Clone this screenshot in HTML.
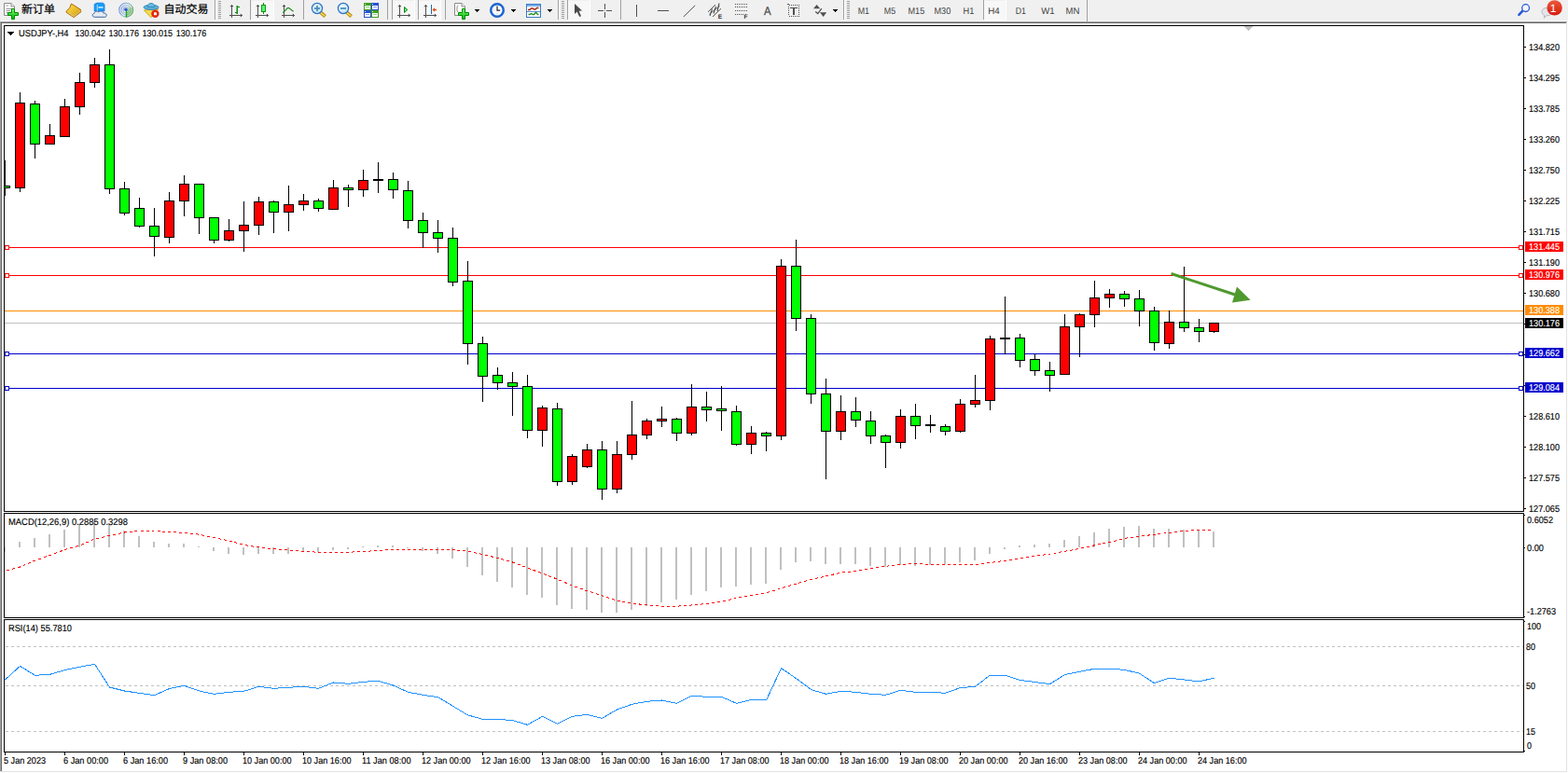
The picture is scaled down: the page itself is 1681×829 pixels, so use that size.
<!DOCTYPE html><html><head><meta charset="utf-8"><title>USDJPY H4</title><style>html,body{margin:0;padding:0;background:#fff;overflow:hidden}svg{display:block}text{font-family:"Liberation Sans",sans-serif}</style></head><body><svg width="1681" height="829" viewBox="0 0 1681 829" font-family="'Liberation Sans', sans-serif" shape-rendering="crispEdges" text-rendering="geometricPrecision">
<defs><pattern id="chk" width="2" height="2" patternUnits="userSpaceOnUse"><rect width="2" height="2" fill="#f0f0f0"/><rect width="1" height="1" fill="#fff"/><rect x="1" y="1" width="1" height="1" fill="#fff"/></pattern>
<linearGradient id="gplus" x1="0" y1="0" x2="0" y2="1"><stop offset="0" stop-color="#7dff7d"/><stop offset="1" stop-color="#00b400"/></linearGradient>
<linearGradient id="gold" x1="0" y1="0" x2="1" y2="1"><stop offset="0" stop-color="#ffe34d"/><stop offset="1" stop-color="#d69a10"/></linearGradient>
<linearGradient id="badge" x1="0" y1="0" x2="0" y2="1"><stop offset="0" stop-color="#ea5a3c"/><stop offset="1" stop-color="#d61c0c"/></linearGradient>
<radialGradient id="lens" cx="0.4" cy="0.35" r="0.7"><stop offset="0" stop-color="#f2fbff"/><stop offset="1" stop-color="#b4dcf5"/></radialGradient>
</defs>
<rect x="0" y="0" width="1681" height="829" fill="#fff"/>
<rect x="0" y="0" width="1681" height="22" fill="#f0f0f0"/>
<rect x="0" y="22" width="1681" height="1" fill="#f5f5f5"/>
<rect x="0" y="23" width="1680" height="1" fill="#a0a0a0"/>
<rect x="1" y="24" width="1679" height="1" fill="#696969"/>
<rect x="0" y="23" width="1" height="804" fill="#a0a0a0"/>
<rect x="1" y="24" width="1" height="803" fill="#696969"/>
<rect x="1679" y="24" width="1" height="804" fill="#e3e3e3"/>
<rect x="0" y="827" width="1680" height="1" fill="#e3e3e3"/>
<rect x="4" y="27" width="1630" height="1" fill="#000"/>
<rect x="4" y="548" width="1630" height="1" fill="#000"/>
<rect x="4" y="27" width="1" height="522" fill="#000"/>
<rect x="1633" y="27" width="1" height="522" fill="#000"/>
<rect x="4" y="550" width="1630" height="1" fill="#000"/>
<rect x="4" y="662" width="1630" height="1" fill="#000"/>
<rect x="4" y="550" width="1" height="113" fill="#000"/>
<rect x="1633" y="550" width="1" height="113" fill="#000"/>
<rect x="4" y="664" width="1630" height="1" fill="#000"/>
<rect x="4" y="806" width="1630" height="1" fill="#000"/>
<rect x="4" y="664" width="1" height="143" fill="#000"/>
<rect x="1633" y="664" width="1" height="143" fill="#000"/>
<rect x="5" y="346" width="1628" height="1" fill="#c0c0c0"/>
<rect x="5" y="333" width="1628" height="1" fill="#ff8c00"/>
<rect x="5" y="265" width="1628" height="1" fill="#ff0000"/>
<rect x="5" y="263" width="5" height="5" fill="#ff0000"/>
<rect x="6" y="264" width="3" height="3" fill="#fff"/>
<rect x="1628" y="263" width="5" height="5" fill="#ff0000"/>
<rect x="1629" y="264" width="3" height="3" fill="#fff"/>
<rect x="5" y="295" width="1628" height="1" fill="#ff0000"/>
<rect x="5" y="293" width="5" height="5" fill="#ff0000"/>
<rect x="6" y="294" width="3" height="3" fill="#fff"/>
<rect x="1628" y="293" width="5" height="5" fill="#ff0000"/>
<rect x="1629" y="294" width="3" height="3" fill="#fff"/>
<rect x="5" y="379" width="1628" height="1" fill="#0000cd"/>
<rect x="5" y="377" width="5" height="5" fill="#0000cd"/>
<rect x="6" y="378" width="3" height="3" fill="#fff"/>
<rect x="1628" y="377" width="5" height="5" fill="#0000cd"/>
<rect x="1629" y="378" width="3" height="3" fill="#fff"/>
<rect x="5" y="416" width="1628" height="1" fill="#0000cd"/>
<rect x="5" y="414" width="5" height="5" fill="#0000cd"/>
<rect x="6" y="415" width="3" height="3" fill="#fff"/>
<rect x="1628" y="414" width="5" height="5" fill="#0000cd"/>
<rect x="1629" y="415" width="3" height="3" fill="#fff"/>
<rect x="5" y="172" width="1" height="38" fill="#000"/>
<rect x="5" y="199" width="6" height="3" fill="#000"/>
<rect x="5" y="200" width="5" height="1" fill="#00ff00"/>
<rect x="21" y="99" width="1" height="107" fill="#000"/>
<rect x="16" y="110" width="11" height="92" fill="#000"/>
<rect x="17" y="111" width="9" height="90" fill="#ff0000"/>
<rect x="37" y="108" width="1" height="62" fill="#000"/>
<rect x="32" y="111" width="11" height="44" fill="#000"/>
<rect x="33" y="112" width="9" height="42" fill="#00ff00"/>
<rect x="53" y="133" width="1" height="22" fill="#000"/>
<rect x="48" y="145" width="11" height="10" fill="#000"/>
<rect x="49" y="146" width="9" height="8" fill="#ff0000"/>
<rect x="69" y="106" width="1" height="41" fill="#000"/>
<rect x="64" y="114" width="11" height="33" fill="#000"/>
<rect x="65" y="115" width="9" height="31" fill="#ff0000"/>
<rect x="85" y="78" width="1" height="45" fill="#000"/>
<rect x="80" y="88" width="11" height="27" fill="#000"/>
<rect x="81" y="89" width="9" height="25" fill="#ff0000"/>
<rect x="101" y="62" width="1" height="32" fill="#000"/>
<rect x="96" y="69" width="11" height="20" fill="#000"/>
<rect x="97" y="70" width="9" height="18" fill="#ff0000"/>
<rect x="117" y="53" width="1" height="155" fill="#000"/>
<rect x="112" y="69" width="11" height="134" fill="#000"/>
<rect x="113" y="70" width="9" height="132" fill="#00ff00"/>
<rect x="133" y="195" width="1" height="36" fill="#000"/>
<rect x="128" y="202" width="11" height="27" fill="#000"/>
<rect x="129" y="203" width="9" height="25" fill="#00ff00"/>
<rect x="149" y="212" width="1" height="32" fill="#000"/>
<rect x="144" y="223" width="11" height="20" fill="#000"/>
<rect x="145" y="224" width="9" height="18" fill="#00ff00"/>
<rect x="165" y="223" width="1" height="52" fill="#000"/>
<rect x="160" y="242" width="11" height="12" fill="#000"/>
<rect x="161" y="243" width="9" height="10" fill="#00ff00"/>
<rect x="181" y="206" width="1" height="55" fill="#000"/>
<rect x="176" y="215" width="11" height="40" fill="#000"/>
<rect x="177" y="216" width="9" height="38" fill="#ff0000"/>
<rect x="197" y="188" width="1" height="44" fill="#000"/>
<rect x="192" y="197" width="11" height="19" fill="#000"/>
<rect x="193" y="198" width="9" height="17" fill="#ff0000"/>
<rect x="213" y="197" width="1" height="54" fill="#000"/>
<rect x="208" y="197" width="11" height="37" fill="#000"/>
<rect x="209" y="198" width="9" height="35" fill="#00ff00"/>
<rect x="229" y="233" width="1" height="28" fill="#000"/>
<rect x="224" y="233" width="11" height="25" fill="#000"/>
<rect x="225" y="234" width="9" height="23" fill="#00ff00"/>
<rect x="245" y="235" width="1" height="24" fill="#000"/>
<rect x="240" y="247" width="11" height="11" fill="#000"/>
<rect x="241" y="248" width="9" height="9" fill="#ff0000"/>
<rect x="261" y="216" width="1" height="54" fill="#000"/>
<rect x="256" y="241" width="11" height="7" fill="#000"/>
<rect x="257" y="242" width="9" height="5" fill="#ff0000"/>
<rect x="277" y="211" width="1" height="41" fill="#000"/>
<rect x="272" y="216" width="11" height="26" fill="#000"/>
<rect x="273" y="217" width="9" height="24" fill="#ff0000"/>
<rect x="293" y="215" width="1" height="35" fill="#000"/>
<rect x="288" y="216" width="11" height="12" fill="#000"/>
<rect x="289" y="217" width="9" height="10" fill="#00ff00"/>
<rect x="309" y="199" width="1" height="49" fill="#000"/>
<rect x="304" y="219" width="11" height="9" fill="#000"/>
<rect x="305" y="220" width="9" height="7" fill="#ff0000"/>
<rect x="325" y="208" width="1" height="18" fill="#000"/>
<rect x="320" y="215" width="11" height="5" fill="#000"/>
<rect x="321" y="216" width="9" height="3" fill="#ff0000"/>
<rect x="341" y="213" width="1" height="14" fill="#000"/>
<rect x="336" y="215" width="11" height="9" fill="#000"/>
<rect x="337" y="216" width="9" height="7" fill="#00ff00"/>
<rect x="357" y="193" width="1" height="32" fill="#000"/>
<rect x="352" y="201" width="11" height="24" fill="#000"/>
<rect x="353" y="202" width="9" height="22" fill="#ff0000"/>
<rect x="373" y="198" width="1" height="24" fill="#000"/>
<rect x="368" y="201" width="11" height="3" fill="#000"/>
<rect x="369" y="202" width="9" height="1" fill="#00ff00"/>
<rect x="389" y="182" width="1" height="29" fill="#000"/>
<rect x="384" y="193" width="11" height="11" fill="#000"/>
<rect x="385" y="194" width="9" height="9" fill="#ff0000"/>
<rect x="405" y="174" width="1" height="33" fill="#000"/>
<rect x="400" y="192" width="11" height="2" fill="#000"/>
<rect x="421" y="185" width="1" height="28" fill="#000"/>
<rect x="416" y="192" width="11" height="12" fill="#000"/>
<rect x="417" y="193" width="9" height="10" fill="#00ff00"/>
<rect x="437" y="194" width="1" height="51" fill="#000"/>
<rect x="432" y="204" width="11" height="33" fill="#000"/>
<rect x="433" y="205" width="9" height="31" fill="#00ff00"/>
<rect x="453" y="228" width="1" height="38" fill="#000"/>
<rect x="448" y="236" width="11" height="14" fill="#000"/>
<rect x="449" y="237" width="9" height="12" fill="#00ff00"/>
<rect x="469" y="236" width="1" height="35" fill="#000"/>
<rect x="464" y="249" width="11" height="7" fill="#000"/>
<rect x="465" y="250" width="9" height="5" fill="#00ff00"/>
<rect x="485" y="244" width="1" height="63" fill="#000"/>
<rect x="480" y="255" width="11" height="48" fill="#000"/>
<rect x="481" y="256" width="9" height="46" fill="#00ff00"/>
<rect x="501" y="280" width="1" height="111" fill="#000"/>
<rect x="496" y="301" width="11" height="68" fill="#000"/>
<rect x="497" y="302" width="9" height="66" fill="#00ff00"/>
<rect x="517" y="361" width="1" height="70" fill="#000"/>
<rect x="512" y="368" width="11" height="36" fill="#000"/>
<rect x="513" y="369" width="9" height="34" fill="#00ff00"/>
<rect x="533" y="394" width="1" height="24" fill="#000"/>
<rect x="528" y="402" width="11" height="9" fill="#000"/>
<rect x="529" y="403" width="9" height="7" fill="#00ff00"/>
<rect x="549" y="399" width="1" height="47" fill="#000"/>
<rect x="544" y="410" width="11" height="5" fill="#000"/>
<rect x="545" y="411" width="9" height="3" fill="#00ff00"/>
<rect x="565" y="402" width="1" height="68" fill="#000"/>
<rect x="560" y="414" width="11" height="48" fill="#000"/>
<rect x="561" y="415" width="9" height="46" fill="#00ff00"/>
<rect x="581" y="435" width="1" height="44" fill="#000"/>
<rect x="576" y="437" width="11" height="25" fill="#000"/>
<rect x="577" y="438" width="9" height="23" fill="#ff0000"/>
<rect x="597" y="432" width="1" height="89" fill="#000"/>
<rect x="592" y="438" width="11" height="79" fill="#000"/>
<rect x="593" y="439" width="9" height="77" fill="#00ff00"/>
<rect x="613" y="487" width="1" height="33" fill="#000"/>
<rect x="608" y="489" width="11" height="28" fill="#000"/>
<rect x="609" y="490" width="9" height="26" fill="#ff0000"/>
<rect x="629" y="476" width="1" height="26" fill="#000"/>
<rect x="624" y="482" width="11" height="19" fill="#000"/>
<rect x="625" y="483" width="9" height="17" fill="#ff0000"/>
<rect x="645" y="473" width="1" height="63" fill="#000"/>
<rect x="640" y="482" width="11" height="43" fill="#000"/>
<rect x="641" y="483" width="9" height="41" fill="#00ff00"/>
<rect x="661" y="473" width="1" height="56" fill="#000"/>
<rect x="656" y="487" width="11" height="38" fill="#000"/>
<rect x="657" y="488" width="9" height="36" fill="#ff0000"/>
<rect x="677" y="430" width="1" height="63" fill="#000"/>
<rect x="672" y="466" width="11" height="22" fill="#000"/>
<rect x="673" y="467" width="9" height="20" fill="#ff0000"/>
<rect x="693" y="449" width="1" height="22" fill="#000"/>
<rect x="688" y="451" width="11" height="16" fill="#000"/>
<rect x="689" y="452" width="9" height="14" fill="#ff0000"/>
<rect x="709" y="436" width="1" height="22" fill="#000"/>
<rect x="704" y="449" width="11" height="3" fill="#000"/>
<rect x="705" y="450" width="9" height="1" fill="#ff0000"/>
<rect x="725" y="448" width="1" height="25" fill="#000"/>
<rect x="720" y="449" width="11" height="16" fill="#000"/>
<rect x="721" y="450" width="9" height="14" fill="#00ff00"/>
<rect x="741" y="412" width="1" height="55" fill="#000"/>
<rect x="736" y="436" width="11" height="29" fill="#000"/>
<rect x="737" y="437" width="9" height="27" fill="#ff0000"/>
<rect x="757" y="420" width="1" height="32" fill="#000"/>
<rect x="752" y="436" width="11" height="4" fill="#000"/>
<rect x="753" y="437" width="9" height="2" fill="#00ff00"/>
<rect x="773" y="414" width="1" height="48" fill="#000"/>
<rect x="768" y="438" width="11" height="3" fill="#000"/>
<rect x="769" y="439" width="9" height="1" fill="#00ff00"/>
<rect x="789" y="435" width="1" height="43" fill="#000"/>
<rect x="784" y="441" width="11" height="36" fill="#000"/>
<rect x="785" y="442" width="9" height="34" fill="#00ff00"/>
<rect x="805" y="457" width="1" height="30" fill="#000"/>
<rect x="800" y="464" width="11" height="13" fill="#000"/>
<rect x="801" y="465" width="9" height="11" fill="#ff0000"/>
<rect x="821" y="463" width="1" height="21" fill="#000"/>
<rect x="816" y="464" width="11" height="4" fill="#000"/>
<rect x="817" y="465" width="9" height="2" fill="#00ff00"/>
<rect x="837" y="278" width="1" height="194" fill="#000"/>
<rect x="832" y="285" width="11" height="183" fill="#000"/>
<rect x="833" y="286" width="9" height="181" fill="#ff0000"/>
<rect x="853" y="257" width="1" height="98" fill="#000"/>
<rect x="848" y="285" width="11" height="57" fill="#000"/>
<rect x="849" y="286" width="9" height="55" fill="#00ff00"/>
<rect x="869" y="337" width="1" height="96" fill="#000"/>
<rect x="864" y="341" width="11" height="82" fill="#000"/>
<rect x="865" y="342" width="9" height="80" fill="#00ff00"/>
<rect x="885" y="406" width="1" height="108" fill="#000"/>
<rect x="880" y="422" width="11" height="41" fill="#000"/>
<rect x="881" y="423" width="9" height="39" fill="#00ff00"/>
<rect x="901" y="424" width="1" height="48" fill="#000"/>
<rect x="896" y="441" width="11" height="22" fill="#000"/>
<rect x="897" y="442" width="9" height="20" fill="#ff0000"/>
<rect x="917" y="426" width="1" height="32" fill="#000"/>
<rect x="912" y="441" width="11" height="10" fill="#000"/>
<rect x="913" y="442" width="9" height="8" fill="#00ff00"/>
<rect x="933" y="441" width="1" height="35" fill="#000"/>
<rect x="928" y="451" width="11" height="17" fill="#000"/>
<rect x="929" y="452" width="9" height="15" fill="#00ff00"/>
<rect x="949" y="466" width="1" height="36" fill="#000"/>
<rect x="944" y="467" width="11" height="8" fill="#000"/>
<rect x="945" y="468" width="9" height="6" fill="#00ff00"/>
<rect x="965" y="439" width="1" height="42" fill="#000"/>
<rect x="960" y="446" width="11" height="29" fill="#000"/>
<rect x="961" y="447" width="9" height="27" fill="#ff0000"/>
<rect x="981" y="433" width="1" height="38" fill="#000"/>
<rect x="976" y="446" width="11" height="11" fill="#000"/>
<rect x="977" y="447" width="9" height="9" fill="#00ff00"/>
<rect x="997" y="445" width="1" height="19" fill="#000"/>
<rect x="992" y="455" width="11" height="2" fill="#000"/>
<rect x="1013" y="455" width="1" height="12" fill="#000"/>
<rect x="1008" y="457" width="11" height="6" fill="#000"/>
<rect x="1009" y="458" width="9" height="4" fill="#00ff00"/>
<rect x="1029" y="428" width="1" height="36" fill="#000"/>
<rect x="1024" y="433" width="11" height="30" fill="#000"/>
<rect x="1025" y="434" width="9" height="28" fill="#ff0000"/>
<rect x="1045" y="402" width="1" height="35" fill="#000"/>
<rect x="1040" y="429" width="11" height="5" fill="#000"/>
<rect x="1041" y="430" width="9" height="3" fill="#ff0000"/>
<rect x="1061" y="360" width="1" height="80" fill="#000"/>
<rect x="1056" y="363" width="11" height="67" fill="#000"/>
<rect x="1057" y="364" width="9" height="65" fill="#ff0000"/>
<rect x="1077" y="318" width="1" height="62" fill="#000"/>
<rect x="1072" y="362" width="11" height="2" fill="#000"/>
<rect x="1093" y="358" width="1" height="36" fill="#000"/>
<rect x="1088" y="362" width="11" height="25" fill="#000"/>
<rect x="1089" y="363" width="9" height="23" fill="#00ff00"/>
<rect x="1109" y="380" width="1" height="23" fill="#000"/>
<rect x="1104" y="385" width="11" height="13" fill="#000"/>
<rect x="1105" y="386" width="9" height="11" fill="#00ff00"/>
<rect x="1125" y="388" width="1" height="32" fill="#000"/>
<rect x="1120" y="397" width="11" height="6" fill="#000"/>
<rect x="1121" y="398" width="9" height="4" fill="#00ff00"/>
<rect x="1141" y="337" width="1" height="65" fill="#000"/>
<rect x="1136" y="350" width="11" height="52" fill="#000"/>
<rect x="1137" y="351" width="9" height="50" fill="#ff0000"/>
<rect x="1157" y="336" width="1" height="47" fill="#000"/>
<rect x="1152" y="337" width="11" height="14" fill="#000"/>
<rect x="1153" y="338" width="9" height="12" fill="#ff0000"/>
<rect x="1173" y="301" width="1" height="50" fill="#000"/>
<rect x="1168" y="319" width="11" height="19" fill="#000"/>
<rect x="1169" y="320" width="9" height="17" fill="#ff0000"/>
<rect x="1189" y="310" width="1" height="20" fill="#000"/>
<rect x="1184" y="315" width="11" height="5" fill="#000"/>
<rect x="1185" y="316" width="9" height="3" fill="#ff0000"/>
<rect x="1205" y="312" width="1" height="17" fill="#000"/>
<rect x="1200" y="315" width="11" height="6" fill="#000"/>
<rect x="1201" y="316" width="9" height="4" fill="#00ff00"/>
<rect x="1221" y="311" width="1" height="39" fill="#000"/>
<rect x="1216" y="320" width="11" height="14" fill="#000"/>
<rect x="1217" y="321" width="9" height="12" fill="#00ff00"/>
<rect x="1237" y="329" width="1" height="47" fill="#000"/>
<rect x="1232" y="333" width="11" height="35" fill="#000"/>
<rect x="1233" y="334" width="9" height="33" fill="#00ff00"/>
<rect x="1253" y="333" width="1" height="41" fill="#000"/>
<rect x="1248" y="345" width="11" height="24" fill="#000"/>
<rect x="1249" y="346" width="9" height="22" fill="#ff0000"/>
<rect x="1269" y="286" width="1" height="70" fill="#000"/>
<rect x="1264" y="345" width="11" height="7" fill="#000"/>
<rect x="1265" y="346" width="9" height="5" fill="#00ff00"/>
<rect x="1285" y="342" width="1" height="25" fill="#000"/>
<rect x="1280" y="351" width="11" height="5" fill="#000"/>
<rect x="1281" y="352" width="9" height="3" fill="#00ff00"/>
<rect x="1301" y="346" width="1" height="11" fill="#000"/>
<rect x="1296" y="346" width="11" height="10" fill="#000"/>
<rect x="1297" y="347" width="9" height="8" fill="#ff0000"/>
<rect x="1334" y="28" width="9" height="1" fill="#c0c0c0"/>
<rect x="1335" y="29" width="7" height="1" fill="#c0c0c0"/>
<rect x="1336" y="30" width="5" height="1" fill="#c0c0c0"/>
<rect x="1337" y="31" width="3" height="1" fill="#c0c0c0"/>
<rect x="1338" y="32" width="1" height="1" fill="#c0c0c0"/>
<g shape-rendering="auto"><line x1="1255.6" y1="293.5" x2="1324" y2="316" stroke="#4f9a2f" stroke-width="3"/><path d="M1326 307.5L1340.6 321.7L1321 324.6Z" fill="#4f9a2f"/></g>
<rect x="1634" y="50" width="2" height="1" fill="#000"/>
<text x="1639" y="54" font-size="10" fill="#000" stroke="#000" stroke-width=".15" textLength="33" lengthAdjust="spacingAndGlyphs" xml:space="preserve">134.820</text>
<rect x="1634" y="83" width="2" height="1" fill="#000"/>
<text x="1639" y="87" font-size="10" fill="#000" stroke="#000" stroke-width=".15" textLength="33" lengthAdjust="spacingAndGlyphs" xml:space="preserve">134.295</text>
<rect x="1634" y="116" width="2" height="1" fill="#000"/>
<text x="1639" y="120" font-size="10" fill="#000" stroke="#000" stroke-width=".15" textLength="33" lengthAdjust="spacingAndGlyphs" xml:space="preserve">133.785</text>
<rect x="1634" y="149" width="2" height="1" fill="#000"/>
<text x="1639" y="153" font-size="10" fill="#000" stroke="#000" stroke-width=".15" textLength="33" lengthAdjust="spacingAndGlyphs" xml:space="preserve">133.260</text>
<rect x="1634" y="182" width="2" height="1" fill="#000"/>
<text x="1639" y="186" font-size="10" fill="#000" stroke="#000" stroke-width=".15" textLength="33" lengthAdjust="spacingAndGlyphs" xml:space="preserve">132.750</text>
<rect x="1634" y="215" width="2" height="1" fill="#000"/>
<text x="1639" y="219" font-size="10" fill="#000" stroke="#000" stroke-width=".15" textLength="33" lengthAdjust="spacingAndGlyphs" xml:space="preserve">132.225</text>
<rect x="1634" y="248" width="2" height="1" fill="#000"/>
<text x="1639" y="252" font-size="10" fill="#000" stroke="#000" stroke-width=".15" textLength="33" lengthAdjust="spacingAndGlyphs" xml:space="preserve">131.715</text>
<rect x="1634" y="281" width="2" height="1" fill="#000"/>
<text x="1639" y="285" font-size="10" fill="#000" stroke="#000" stroke-width=".15" textLength="33" lengthAdjust="spacingAndGlyphs" xml:space="preserve">131.190</text>
<rect x="1634" y="314" width="2" height="1" fill="#000"/>
<text x="1639" y="318" font-size="10" fill="#000" stroke="#000" stroke-width=".15" textLength="33" lengthAdjust="spacingAndGlyphs" xml:space="preserve">130.680</text>
<rect x="1634" y="347" width="2" height="1" fill="#000"/>
<rect x="1634" y="380" width="2" height="1" fill="#000"/>
<rect x="1634" y="413" width="2" height="1" fill="#000"/>
<rect x="1634" y="446" width="2" height="1" fill="#000"/>
<text x="1639" y="450" font-size="10" fill="#000" stroke="#000" stroke-width=".15" textLength="33" lengthAdjust="spacingAndGlyphs" xml:space="preserve">128.610</text>
<rect x="1634" y="479" width="2" height="1" fill="#000"/>
<text x="1639" y="483" font-size="10" fill="#000" stroke="#000" stroke-width=".15" textLength="33" lengthAdjust="spacingAndGlyphs" xml:space="preserve">128.100</text>
<rect x="1634" y="512" width="2" height="1" fill="#000"/>
<text x="1639" y="516" font-size="10" fill="#000" stroke="#000" stroke-width=".15" textLength="33" lengthAdjust="spacingAndGlyphs" xml:space="preserve">127.575</text>
<rect x="1634" y="545" width="2" height="1" fill="#000"/>
<text x="1639" y="549" font-size="10" fill="#000" stroke="#000" stroke-width=".15" textLength="33" lengthAdjust="spacingAndGlyphs" xml:space="preserve">127.065</text>
<rect x="1635" y="259" width="41" height="11" fill="#ff0000"/>
<text x="1639" y="268" font-size="10" fill="#fff" stroke="#fff" stroke-width=".15" textLength="33" lengthAdjust="spacingAndGlyphs" xml:space="preserve">131.445</text>
<rect x="1635" y="289" width="41" height="11" fill="#ff0000"/>
<text x="1639" y="298" font-size="10" fill="#fff" stroke="#fff" stroke-width=".15" textLength="33" lengthAdjust="spacingAndGlyphs" xml:space="preserve">130.976</text>
<rect x="1635" y="327" width="41" height="11" fill="#ff8c00"/>
<text x="1639" y="336" font-size="10" fill="#fff" stroke="#fff" stroke-width=".15" textLength="33" lengthAdjust="spacingAndGlyphs" xml:space="preserve">130.388</text>
<rect x="1635" y="341" width="41" height="11" fill="#000"/>
<text x="1639" y="350" font-size="10" fill="#fff" stroke="#fff" stroke-width=".15" textLength="33" lengthAdjust="spacingAndGlyphs" xml:space="preserve">130.176</text>
<rect x="1635" y="373" width="41" height="11" fill="#0000cd"/>
<text x="1639" y="382" font-size="10" fill="#fff" stroke="#fff" stroke-width=".15" textLength="33" lengthAdjust="spacingAndGlyphs" xml:space="preserve">129.662</text>
<rect x="1635" y="410" width="41" height="11" fill="#0000cd"/>
<text x="1639" y="419" font-size="10" fill="#fff" stroke="#fff" stroke-width=".15" textLength="33" lengthAdjust="spacingAndGlyphs" xml:space="preserve">129.084</text>
<rect x="8" y="34" width="7" height="1" fill="#000"/>
<rect x="9" y="35" width="5" height="1" fill="#000"/>
<rect x="10" y="36" width="3" height="1" fill="#000"/>
<rect x="11" y="37" width="1" height="1" fill="#000"/>
<text x="20" y="39" font-size="10" fill="#000" stroke="#000" stroke-width=".15" textLength="53.5" lengthAdjust="spacingAndGlyphs" xml:space="preserve">USDJPY-,H4</text>
<text x="80.4" y="39" font-size="10" fill="#000" stroke="#000" stroke-width=".15" textLength="32.5" lengthAdjust="spacingAndGlyphs" xml:space="preserve">130.042</text>
<text x="116.5" y="39" font-size="10" fill="#000" stroke="#000" stroke-width=".15" textLength="32.5" lengthAdjust="spacingAndGlyphs" xml:space="preserve">130.176</text>
<text x="152.60000000000002" y="39" font-size="10" fill="#000" stroke="#000" stroke-width=".15" textLength="32.5" lengthAdjust="spacingAndGlyphs" xml:space="preserve">130.015</text>
<text x="188.70000000000002" y="39" font-size="10" fill="#000" stroke="#000" stroke-width=".15" textLength="32.5" lengthAdjust="spacingAndGlyphs" xml:space="preserve">130.176</text>
<rect x="20" y="581" width="2" height="6" fill="#c0c0c0"/>
<rect x="36" y="577" width="2" height="10" fill="#c0c0c0"/>
<rect x="52" y="573" width="2" height="14" fill="#c0c0c0"/>
<rect x="68" y="568" width="2" height="19" fill="#c0c0c0"/>
<rect x="84" y="562" width="2" height="25" fill="#c0c0c0"/>
<rect x="100" y="559" width="2" height="28" fill="#c0c0c0"/>
<rect x="116" y="562" width="2" height="25" fill="#c0c0c0"/>
<rect x="132" y="569" width="2" height="18" fill="#c0c0c0"/>
<rect x="148" y="575" width="2" height="12" fill="#c0c0c0"/>
<rect x="164" y="581" width="2" height="6" fill="#c0c0c0"/>
<rect x="180" y="583" width="2" height="4" fill="#c0c0c0"/>
<rect x="196" y="583" width="2" height="4" fill="#c0c0c0"/>
<rect x="212" y="586" width="2" height="1" fill="#c0c0c0"/>
<rect x="228" y="587" width="2" height="4" fill="#c0c0c0"/>
<rect x="244" y="587" width="2" height="7" fill="#c0c0c0"/>
<rect x="260" y="587" width="2" height="8" fill="#c0c0c0"/>
<rect x="276" y="587" width="2" height="7" fill="#c0c0c0"/>
<rect x="292" y="587" width="2" height="7" fill="#c0c0c0"/>
<rect x="308" y="587" width="2" height="7" fill="#c0c0c0"/>
<rect x="324" y="587" width="2" height="5" fill="#c0c0c0"/>
<rect x="340" y="587" width="2" height="5" fill="#c0c0c0"/>
<rect x="356" y="587" width="2" height="3" fill="#c0c0c0"/>
<rect x="372" y="587" width="2" height="2" fill="#c0c0c0"/>
<rect x="388" y="586" width="2" height="1" fill="#c0c0c0"/>
<rect x="404" y="585" width="2" height="2" fill="#c0c0c0"/>
<rect x="420" y="585" width="2" height="2" fill="#c0c0c0"/>
<rect x="436" y="587" width="2" height="1" fill="#c0c0c0"/>
<rect x="452" y="587" width="2" height="4" fill="#c0c0c0"/>
<rect x="468" y="587" width="2" height="7" fill="#c0c0c0"/>
<rect x="484" y="587" width="2" height="12" fill="#c0c0c0"/>
<rect x="500" y="587" width="2" height="21" fill="#c0c0c0"/>
<rect x="516" y="587" width="2" height="30" fill="#c0c0c0"/>
<rect x="532" y="587" width="2" height="37" fill="#c0c0c0"/>
<rect x="548" y="587" width="2" height="43" fill="#c0c0c0"/>
<rect x="564" y="587" width="2" height="51" fill="#c0c0c0"/>
<rect x="580" y="587" width="2" height="54" fill="#c0c0c0"/>
<rect x="596" y="587" width="2" height="62" fill="#c0c0c0"/>
<rect x="612" y="587" width="2" height="66" fill="#c0c0c0"/>
<rect x="628" y="587" width="2" height="67" fill="#c0c0c0"/>
<rect x="644" y="587" width="2" height="70" fill="#c0c0c0"/>
<rect x="660" y="587" width="2" height="70" fill="#c0c0c0"/>
<rect x="676" y="587" width="2" height="67" fill="#c0c0c0"/>
<rect x="692" y="587" width="2" height="63" fill="#c0c0c0"/>
<rect x="708" y="587" width="2" height="59" fill="#c0c0c0"/>
<rect x="724" y="587" width="2" height="56" fill="#c0c0c0"/>
<rect x="740" y="587" width="2" height="51" fill="#c0c0c0"/>
<rect x="756" y="587" width="2" height="47" fill="#c0c0c0"/>
<rect x="772" y="587" width="2" height="43" fill="#c0c0c0"/>
<rect x="788" y="587" width="2" height="42" fill="#c0c0c0"/>
<rect x="804" y="587" width="2" height="40" fill="#c0c0c0"/>
<rect x="820" y="587" width="2" height="39" fill="#c0c0c0"/>
<rect x="836" y="587" width="2" height="24" fill="#c0c0c0"/>
<rect x="852" y="587" width="2" height="16" fill="#c0c0c0"/>
<rect x="868" y="587" width="2" height="15" fill="#c0c0c0"/>
<rect x="884" y="587" width="2" height="18" fill="#c0c0c0"/>
<rect x="900" y="587" width="2" height="18" fill="#c0c0c0"/>
<rect x="916" y="587" width="2" height="18" fill="#c0c0c0"/>
<rect x="932" y="587" width="2" height="20" fill="#c0c0c0"/>
<rect x="948" y="587" width="2" height="21" fill="#c0c0c0"/>
<rect x="964" y="587" width="2" height="19" fill="#c0c0c0"/>
<rect x="980" y="587" width="2" height="20" fill="#c0c0c0"/>
<rect x="996" y="587" width="2" height="19" fill="#c0c0c0"/>
<rect x="1012" y="587" width="2" height="18" fill="#c0c0c0"/>
<rect x="1028" y="587" width="2" height="16" fill="#c0c0c0"/>
<rect x="1044" y="587" width="2" height="14" fill="#c0c0c0"/>
<rect x="1060" y="587" width="2" height="7" fill="#c0c0c0"/>
<rect x="1076" y="587" width="2" height="2" fill="#c0c0c0"/>
<rect x="1092" y="585" width="2" height="2" fill="#c0c0c0"/>
<rect x="1108" y="584" width="2" height="3" fill="#c0c0c0"/>
<rect x="1124" y="583" width="2" height="4" fill="#c0c0c0"/>
<rect x="1140" y="579" width="2" height="8" fill="#c0c0c0"/>
<rect x="1156" y="575" width="2" height="12" fill="#c0c0c0"/>
<rect x="1172" y="571" width="2" height="16" fill="#c0c0c0"/>
<rect x="1188" y="567" width="2" height="20" fill="#c0c0c0"/>
<rect x="1204" y="565" width="2" height="22" fill="#c0c0c0"/>
<rect x="1220" y="564" width="2" height="23" fill="#c0c0c0"/>
<rect x="1236" y="567" width="2" height="20" fill="#c0c0c0"/>
<rect x="1252" y="567" width="2" height="20" fill="#c0c0c0"/>
<rect x="1268" y="568" width="2" height="19" fill="#c0c0c0"/>
<rect x="1284" y="568" width="2" height="19" fill="#c0c0c0"/>
<rect x="1300" y="570" width="2" height="17" fill="#c0c0c0"/>
<rect x="5" y="587" width="1" height="5" fill="#c0c0c0"/>
<polyline points="5.5,612.5 21.5,608.0 37.5,601.2 53.5,595.5 69.5,589.5 85.5,585.0 101.5,578.0 117.5,574.5 133.5,571.0 149.5,569.5 165.5,569.5 181.5,570.5 197.5,571.5 213.5,573.2 229.5,576.5 245.5,580.0 261.5,584.5 277.5,587.0 293.5,588.7 309.5,590.0 325.5,591.5 341.5,592.2 357.5,592.2 373.5,592.2 389.5,591.5 405.5,590.5 421.5,589.5 437.5,589.5 453.5,589.5 469.5,589.5 485.5,589.5 501.5,591.2 517.5,594.5 533.5,598.5 549.5,603.0 565.5,609.0 581.5,615.0 597.5,621.2 613.5,628.0 629.5,633.7 645.5,638.7 661.5,644.2 677.5,647.0 693.5,649.0 709.5,650.2 725.5,650.2 741.5,649.0 757.5,647.5 773.5,645.0 789.5,641.5 805.5,638.2 821.5,635.9 837.5,630.8 853.5,626.0 869.5,621.5 885.5,617.9 901.5,614.1 917.5,612.5 933.5,609.9 949.5,607.3 965.5,605.7 981.5,604.4 997.5,605.4 1013.5,605.4 1029.5,605.4 1045.5,605.4 1061.5,603.5 1077.5,601.2 1093.5,599.0 1109.5,596.4 1125.5,594.1 1141.5,591.3 1157.5,588.4 1173.5,584.8 1189.5,581.6 1205.5,577.4 1221.5,575.2 1237.5,573.3 1253.5,571.3 1269.5,569.4 1285.5,568.4 1297.5,568.4" fill="none" stroke="#ff0000" stroke-width="1" stroke-dasharray="3 3" stroke-dashoffset="-2"/>
<text x="9" y="563" font-size="10" fill="#000" stroke="#000" stroke-width=".15" textLength="128" lengthAdjust="spacingAndGlyphs" xml:space="preserve">MACD(12,26,9) 0.2885 0.3298</text>
<rect x="1634" y="552" width="1" height="1" fill="#000"/>
<text x="1637" y="561" font-size="10" fill="#000" stroke="#000" stroke-width=".15" textLength="28" lengthAdjust="spacingAndGlyphs" xml:space="preserve">0.6052</text>
<rect x="1634" y="587" width="1" height="1" fill="#000"/>
<text x="1637" y="591" font-size="10" fill="#000" stroke="#000" stroke-width=".15" textLength="18" lengthAdjust="spacingAndGlyphs" xml:space="preserve">0.00</text>
<rect x="1634" y="661" width="1" height="1" fill="#000"/>
<text x="1637" y="659" font-size="10" fill="#000" stroke="#000" stroke-width=".15" textLength="31" lengthAdjust="spacingAndGlyphs" xml:space="preserve">-1.2763</text>
<line x1="6" x2="1633" y1="693.5" y2="693.5" stroke="#c0c0c0" stroke-dasharray="3 3"/>
<line x1="6" x2="1633" y1="735.5" y2="735.5" stroke="#c0c0c0" stroke-dasharray="3 3"/>
<line x1="6" x2="1633" y1="784.5" y2="784.5" stroke="#c0c0c0" stroke-dasharray="3 3"/>
<polyline points="5.5,729.0 21.5,714.3 37.5,724.3 53.5,723.3 69.5,718.6 85.5,715.3 101.5,712.3 117.5,737.0 133.5,741.0 149.5,743.3 165.5,745.6 181.5,738.6 197.5,735.3 213.5,741.0 229.5,744.3 245.5,742.3 261.5,741.3 277.5,736.3 293.5,738.3 309.5,737.3 325.5,736.3 341.5,738.3 357.5,732.0 373.5,733.3 389.5,731.3 405.5,730.3 421.5,735.0 437.5,742.3 453.5,745.3 469.5,747.6 485.5,757.3 501.5,766.9 517.5,771.3 533.5,771.3 549.5,772.6 565.5,777.3 581.5,768.3 597.5,776.3 613.5,768.3 629.5,766.3 645.5,770.3 661.5,761.0 677.5,755.3 693.5,752.3 709.5,751.0 725.5,754.3 741.5,746.3 757.5,747.3 773.5,747.3 789.5,754.3 805.5,750.3 821.5,751.0 837.5,716.6 853.5,727.6 869.5,739.6 885.5,744.3 901.5,741.3 917.5,742.3 933.5,744.3 949.5,745.3 965.5,740.3 981.5,742.3 997.5,742.3 1013.5,743.3 1029.5,737.6 1045.5,736.3 1061.5,724.0 1077.5,724.0 1093.5,729.5 1109.5,731.5 1125.5,733.6 1141.5,723.6 1157.5,720.4 1173.5,717.2 1189.5,717.2 1205.5,718.3 1221.5,722.2 1237.5,732.6 1253.5,727.2 1269.5,729.0 1285.5,730.8 1301.5,727.2" fill="none" stroke="#1e90ff" stroke-width="1"/>
<text x="9" y="677" font-size="10" fill="#000" stroke="#000" stroke-width=".15" textLength="68" lengthAdjust="spacingAndGlyphs" xml:space="preserve">RSI(14) 55.7810</text>
<text x="1637" y="675" font-size="10" fill="#000" stroke="#000" stroke-width=".15" textLength="15" lengthAdjust="spacingAndGlyphs" xml:space="preserve">100</text>
<text x="1636" y="697" font-size="10" fill="#000" stroke="#000" stroke-width=".15" textLength="10" lengthAdjust="spacingAndGlyphs" xml:space="preserve">80</text>
<text x="1636" y="739" font-size="10" fill="#000" stroke="#000" stroke-width=".15" textLength="10" lengthAdjust="spacingAndGlyphs" xml:space="preserve">50</text>
<text x="1636" y="788" font-size="10" fill="#000" stroke="#000" stroke-width=".15" textLength="10" lengthAdjust="spacingAndGlyphs" xml:space="preserve">15</text>
<text x="1637" y="803" font-size="10" fill="#000" stroke="#000" stroke-width=".15" textLength="5" lengthAdjust="spacingAndGlyphs" xml:space="preserve">0</text>
<rect x="1634" y="666" width="1" height="1" fill="#000"/>
<rect x="1634" y="805" width="1" height="1" fill="#000"/>
<rect x="5" y="807" width="1" height="3" fill="#000"/>
<text x="4" y="819" font-size="10" fill="#000" stroke="#000" stroke-width=".15" textLength="45" lengthAdjust="spacingAndGlyphs" xml:space="preserve">5 Jan 2023</text>
<rect x="69" y="807" width="1" height="3" fill="#000"/>
<text x="68" y="819" font-size="10" fill="#000" stroke="#000" stroke-width=".15" textLength="48" lengthAdjust="spacingAndGlyphs" xml:space="preserve">6 Jan 00:00</text>
<rect x="133" y="807" width="1" height="3" fill="#000"/>
<text x="132" y="819" font-size="10" fill="#000" stroke="#000" stroke-width=".15" textLength="48" lengthAdjust="spacingAndGlyphs" xml:space="preserve">6 Jan 16:00</text>
<rect x="197" y="807" width="1" height="3" fill="#000"/>
<text x="196" y="819" font-size="10" fill="#000" stroke="#000" stroke-width=".15" textLength="48" lengthAdjust="spacingAndGlyphs" xml:space="preserve">9 Jan 08:00</text>
<rect x="261" y="807" width="1" height="3" fill="#000"/>
<text x="260" y="819" font-size="10" fill="#000" stroke="#000" stroke-width=".15" textLength="52.5" lengthAdjust="spacingAndGlyphs" xml:space="preserve">10 Jan 00:00</text>
<rect x="325" y="807" width="1" height="3" fill="#000"/>
<text x="324" y="819" font-size="10" fill="#000" stroke="#000" stroke-width=".15" textLength="52.5" lengthAdjust="spacingAndGlyphs" xml:space="preserve">10 Jan 16:00</text>
<rect x="389" y="807" width="1" height="3" fill="#000"/>
<text x="388" y="819" font-size="10" fill="#000" stroke="#000" stroke-width=".15" textLength="52.5" lengthAdjust="spacingAndGlyphs" xml:space="preserve">11 Jan 08:00</text>
<rect x="453" y="807" width="1" height="3" fill="#000"/>
<text x="452" y="819" font-size="10" fill="#000" stroke="#000" stroke-width=".15" textLength="52.5" lengthAdjust="spacingAndGlyphs" xml:space="preserve">12 Jan 00:00</text>
<rect x="517" y="807" width="1" height="3" fill="#000"/>
<text x="516" y="819" font-size="10" fill="#000" stroke="#000" stroke-width=".15" textLength="52.5" lengthAdjust="spacingAndGlyphs" xml:space="preserve">12 Jan 16:00</text>
<rect x="581" y="807" width="1" height="3" fill="#000"/>
<text x="580" y="819" font-size="10" fill="#000" stroke="#000" stroke-width=".15" textLength="52.5" lengthAdjust="spacingAndGlyphs" xml:space="preserve">13 Jan 08:00</text>
<rect x="645" y="807" width="1" height="3" fill="#000"/>
<text x="644" y="819" font-size="10" fill="#000" stroke="#000" stroke-width=".15" textLength="52.5" lengthAdjust="spacingAndGlyphs" xml:space="preserve">16 Jan 00:00</text>
<rect x="709" y="807" width="1" height="3" fill="#000"/>
<text x="708" y="819" font-size="10" fill="#000" stroke="#000" stroke-width=".15" textLength="52.5" lengthAdjust="spacingAndGlyphs" xml:space="preserve">16 Jan 16:00</text>
<rect x="773" y="807" width="1" height="3" fill="#000"/>
<text x="772" y="819" font-size="10" fill="#000" stroke="#000" stroke-width=".15" textLength="52.5" lengthAdjust="spacingAndGlyphs" xml:space="preserve">17 Jan 08:00</text>
<rect x="837" y="807" width="1" height="3" fill="#000"/>
<text x="836" y="819" font-size="10" fill="#000" stroke="#000" stroke-width=".15" textLength="52.5" lengthAdjust="spacingAndGlyphs" xml:space="preserve">18 Jan 00:00</text>
<rect x="901" y="807" width="1" height="3" fill="#000"/>
<text x="900" y="819" font-size="10" fill="#000" stroke="#000" stroke-width=".15" textLength="52.5" lengthAdjust="spacingAndGlyphs" xml:space="preserve">18 Jan 16:00</text>
<rect x="965" y="807" width="1" height="3" fill="#000"/>
<text x="964" y="819" font-size="10" fill="#000" stroke="#000" stroke-width=".15" textLength="52.5" lengthAdjust="spacingAndGlyphs" xml:space="preserve">19 Jan 08:00</text>
<rect x="1029" y="807" width="1" height="3" fill="#000"/>
<text x="1028" y="819" font-size="10" fill="#000" stroke="#000" stroke-width=".15" textLength="52.5" lengthAdjust="spacingAndGlyphs" xml:space="preserve">20 Jan 00:00</text>
<rect x="1093" y="807" width="1" height="3" fill="#000"/>
<text x="1092" y="819" font-size="10" fill="#000" stroke="#000" stroke-width=".15" textLength="52.5" lengthAdjust="spacingAndGlyphs" xml:space="preserve">20 Jan 16:00</text>
<rect x="1157" y="807" width="1" height="3" fill="#000"/>
<text x="1156" y="819" font-size="10" fill="#000" stroke="#000" stroke-width=".15" textLength="52.5" lengthAdjust="spacingAndGlyphs" xml:space="preserve">23 Jan 08:00</text>
<rect x="1221" y="807" width="1" height="3" fill="#000"/>
<text x="1220" y="819" font-size="10" fill="#000" stroke="#000" stroke-width=".15" textLength="52.5" lengthAdjust="spacingAndGlyphs" xml:space="preserve">24 Jan 00:00</text>
<rect x="1285" y="807" width="1" height="3" fill="#000"/>
<text x="1284" y="819" font-size="10" fill="#000" stroke="#000" stroke-width=".15" textLength="52.5" lengthAdjust="spacingAndGlyphs" xml:space="preserve">24 Jan 16:00</text>
<g shape-rendering="auto">
<path d="M4.5 3.5H12L15.5 7V16.5H4.5Z" fill="#fff" stroke="#8a8a8a"/><path d="M12 3.5V7H15.5" fill="#f4f4f4" stroke="#8a8a8a"/>
<path d="M6.5 6H9M6.5 9.5H13M6.5 11.5H11M6.5 13.5H8.5" stroke="#9a9a9a" stroke-width="1"/>
<path d="M12.5 9.5H15.5V13.5H19.5V16.5H15.5V20.5H12.5V16.5H8.5V13.5H12.5Z" fill="url(#gplus)" stroke="#008a00" stroke-width="1"/>
<text x="23" y="13.9" font-size="12" fill="#000" stroke="#000" stroke-width=".2" style="font-family:'Liberation Sans','Noto Sans CJK SC',sans-serif">新订单</text>
<path d="M76.5 4L86.5 10.3L86.8 12.8L79 18.6L71 13.2L71.3 11.8L74.6 8.6Z" fill="url(#gold)" stroke="#a8680c" stroke-width="1"/><path d="M71.2 12L79 17.2L86.6 10.8L86.8 12.8L79 18.6L71 13.2Z" fill="#c08a18"/><path d="M72 12.8L79 17.6L86.4 11.6" fill="none" stroke="#f6e7a8" stroke-width=".7"/>
<path d="M101.2 4.5L104 3.2H110.5L112 4.8V12H101.2Z" fill="#169bfa" stroke="#0a78e0" stroke-width=".8"/><path d="M104.3 5V12" stroke="#d8f0ff" stroke-width=".8"/><rect x="105.5" y="7.2" width="5" height="1.4" fill="#e8f6ff"/>
<path d="M101.5 18.3C98.6 18.3 98.4 14.6 101.2 14.2C101.6 12 104.6 11.4 105.8 13C107.4 11.2 110.6 11.8 110.8 14C114.8 13.6 115.4 18.3 112.4 18.3Z" fill="#e3eaf3" stroke="#3d62a0" stroke-width="1"/>
<defs><linearGradient id="sig" x1="0" y1="0" x2="1" y2="0.4"><stop offset="0" stop-color="#3a6ad8"/><stop offset=".55" stop-color="#7aa6d8"/><stop offset="1" stop-color="#4fa64f"/></linearGradient></defs>
<path d="M135.2 10.7V18.4A7.7 7.7 0 0 0 142.4 7.6Z" fill="#7cc07c" opacity=".45"/>
<g fill="none" stroke="url(#sig)" stroke-width="1.1"><circle cx="135.2" cy="10.7" r="7.4" opacity=".8"/><circle cx="135.2" cy="10.7" r="5.2" opacity=".65"/><circle cx="135.2" cy="10.7" r="3.1" opacity=".55"/></g>
<path d="M135.5 11V18.6" stroke="#1fa51f" stroke-width="1.4"/><circle cx="135" cy="10.3" r="1.8" fill="#2a5ad0"/>
<path d="M154.4 11L169.8 9.6L162 18.8Z" fill="#f7dc4a" stroke="#caa21c" stroke-width=".9"/>
<ellipse cx="162" cy="7.8" rx="8" ry="2.6" fill="#5fb0dc" stroke="#2a86b8" stroke-width=".9"/><path d="M158 7.4C158 2.2 166 2.2 166 7.4Z" fill="#6cbbe2" stroke="#2a86b8" stroke-width=".9"/>
<circle cx="166.4" cy="14.7" r="4.2" fill="#e22a10"/><rect x="165" y="13.3" width="2.9" height="2.9" fill="#fff"/>
<text x="175.5" y="13.9" font-size="12" fill="#000" stroke="#000" stroke-width=".2" style="font-family:'Liberation Sans','Noto Sans CJK SC',sans-serif">自动交易</text>
</g>
<rect x="230" y="0" width="1" height="21" fill="#a0a0a0"/>
<rect x="231" y="0" width="1" height="21" fill="#fff"/>
<rect x="234" y="1" width="3" height="1" fill="#a0a0a0"/>
<rect x="234" y="3" width="3" height="1" fill="#a0a0a0"/>
<rect x="234" y="5" width="3" height="1" fill="#a0a0a0"/>
<rect x="234" y="7" width="3" height="1" fill="#a0a0a0"/>
<rect x="234" y="9" width="3" height="1" fill="#a0a0a0"/>
<rect x="234" y="11" width="3" height="1" fill="#a0a0a0"/>
<rect x="234" y="13" width="3" height="1" fill="#a0a0a0"/>
<rect x="234" y="15" width="3" height="1" fill="#a0a0a0"/>
<rect x="234" y="17" width="3" height="1" fill="#a0a0a0"/>
<rect x="234" y="19" width="3" height="1" fill="#a0a0a0"/>
<rect x="248" y="5" width="1" height="14" fill="#505050"/><rect x="246" y="16" width="14" height="1" fill="#505050"/>
<rect x="247" y="6" width="3" height="1" fill="#505050"/><rect x="246" y="7" width="5" height="1" fill="#505050" opacity=".12"/>
<rect x="258" y="15" width="1" height="3" fill="#505050"/><rect x="257" y="14" width="1" height="5" fill="#505050" opacity=".12"/>
<rect x="254" y="6" width="1" height="9" fill="#0a8a0a"/><rect x="254" y="7" width="3" height="1" fill="#0a8a0a"/><rect x="252" y="13" width="3" height="1" fill="#0a8a0a"/>
<rect x="253" y="6" width="1" height="9" fill="#0a8a0a" opacity=".5"/>
<rect x="268" y="0" width="1" height="21" fill="#a0a0a0"/>
<rect x="270" y="1" width="23" height="20" fill="url(#chk)"/><rect x="293" y="0" width="1" height="22" fill="#fff"/><rect x="269" y="21" width="25" height="1" fill="#fff"/>
<rect x="276" y="5" width="1" height="14" fill="#505050"/><rect x="274" y="16" width="14" height="1" fill="#505050"/>
<rect x="275" y="6" width="3" height="1" fill="#505050"/><rect x="274" y="7" width="5" height="1" fill="#505050" opacity=".12"/>
<rect x="286" y="15" width="1" height="3" fill="#505050"/><rect x="285" y="14" width="1" height="5" fill="#505050" opacity=".12"/>
<rect x="282" y="3" width="1" height="12" fill="#0a8a0a"/><rect x="280" y="5" width="5" height="8" fill="#0a9a0a"/><rect x="281" y="6" width="3" height="6" fill="#5df07a"/>
<rect x="304" y="5" width="1" height="14" fill="#505050"/><rect x="302" y="16" width="14" height="1" fill="#505050"/>
<rect x="303" y="6" width="3" height="1" fill="#505050"/><rect x="302" y="7" width="5" height="1" fill="#505050" opacity=".12"/>
<rect x="314" y="15" width="1" height="3" fill="#505050"/><rect x="313" y="14" width="1" height="5" fill="#505050" opacity=".12"/>
<path d="M303.2 13.6C306 12 307.5 8.4 309 8.4C310.8 8.4 312.5 11.5 314.6 12" fill="none" stroke="#1f8f1f" stroke-width="1.3" shape-rendering="auto"/>
<rect x="325" y="0" width="1" height="21" fill="#a0a0a0"/>
<g shape-rendering="auto">
<path d="M343.6 13.2L348.6 17.6" stroke="#a87808" stroke-width="3.6" stroke-linecap="butt"/><path d="M343.8 13.4L348.2 17.2" stroke="#f0d44a" stroke-width="2"/>
<circle cx="340" cy="9" r="5.6" fill="url(#lens)" stroke="#2a70c8" stroke-width="1.2"/>
<path d="M337 9H343" stroke="#4a90b4" stroke-width="1.8"/>
<path d="M340 6V12" stroke="#4a90b4" stroke-width="1.8"/>
</g>
<g shape-rendering="auto">
<path d="M371.6 13.2L376.6 17.6" stroke="#a87808" stroke-width="3.6" stroke-linecap="butt"/><path d="M371.8 13.4L376.2 17.2" stroke="#f0d44a" stroke-width="2"/>
<circle cx="368" cy="9" r="5.6" fill="url(#lens)" stroke="#2a70c8" stroke-width="1.2"/>
<path d="M365 9H371" stroke="#4a90b4" stroke-width="1.8"/>
</g>
<rect x="390" y="3" width="8" height="8" fill="#3fa01e"/><rect x="391" y="6" width="6" height="4" fill="#fff"/><rect x="392" y="7" width="4" height="1" fill="#3fa01e" opacity=".55"/><rect x="391" y="4" width="1" height="1" fill="#fff" opacity=".8"/>
<rect x="398" y="3" width="8" height="8" fill="#2a52d0"/><rect x="399" y="6" width="6" height="4" fill="#fff"/><rect x="400" y="7" width="4" height="1" fill="#2a52d0" opacity=".55"/><rect x="399" y="4" width="1" height="1" fill="#fff" opacity=".8"/>
<rect x="390" y="11" width="8" height="8" fill="#2a52d0"/><rect x="391" y="14" width="6" height="4" fill="#fff"/><rect x="392" y="15" width="4" height="1" fill="#2a52d0" opacity=".55"/><rect x="391" y="12" width="1" height="1" fill="#fff" opacity=".8"/>
<rect x="398" y="11" width="8" height="8" fill="#3fa01e"/><rect x="399" y="14" width="6" height="4" fill="#fff"/><rect x="400" y="15" width="4" height="1" fill="#3fa01e" opacity=".55"/><rect x="399" y="12" width="1" height="1" fill="#fff" opacity=".8"/>
<rect x="415" y="0" width="1" height="21" fill="#a0a0a0"/>
<rect x="420" y="0" width="1" height="21" fill="#a0a0a0"/>
<rect x="421" y="1" width="23" height="20" fill="url(#chk)"/><rect x="444" y="0" width="1" height="22" fill="#fff"/><rect x="420" y="21" width="25" height="1" fill="#fff"/>
<rect x="428" y="5" width="1" height="14" fill="#505050"/><rect x="426" y="16" width="14" height="1" fill="#505050"/>
<rect x="427" y="6" width="3" height="1" fill="#505050"/><rect x="426" y="7" width="5" height="1" fill="#505050" opacity=".12"/>
<rect x="438" y="15" width="1" height="3" fill="#505050"/><rect x="437" y="14" width="1" height="5" fill="#505050" opacity=".12"/>
<path d="M433.5 7.5V13.5L436.8 10.5Z" fill="#6fe07a" stroke="#0a8a0a" stroke-width="1" shape-rendering="auto"/>
<rect x="448" y="0" width="1" height="21" fill="#a0a0a0"/>
<rect x="449" y="1" width="23" height="20" fill="url(#chk)"/><rect x="472" y="0" width="1" height="22" fill="#fff"/><rect x="448" y="21" width="25" height="1" fill="#fff"/>
<rect x="456" y="5" width="1" height="14" fill="#505050"/><rect x="454" y="16" width="14" height="1" fill="#505050"/>
<rect x="455" y="6" width="3" height="1" fill="#505050"/><rect x="454" y="7" width="5" height="1" fill="#505050" opacity=".12"/>
<rect x="466" y="15" width="1" height="3" fill="#505050"/><rect x="465" y="14" width="1" height="5" fill="#505050" opacity=".12"/>
<rect x="462" y="5" width="1" height="10" fill="#1a6aa8"/><path d="M463.6 10.5L466 8.2V9.8H468V11.2H466V12.8Z" fill="#e04a08" shape-rendering="auto"/>
<rect x="477" y="0" width="1" height="21" fill="#a0a0a0"/>
<g shape-rendering="auto"><path d="M487.5 3.5H495L498.5 7V16.5H487.5Z" fill="#fff" stroke="#8a8a8a"/><path d="M495 3.5V7H498.5" fill="#f4f4f4" stroke="#8a8a8a"/><path d="M491 6C489.5 7 489.5 12 491 13" fill="none" stroke="#807860" stroke-width=".9"/>
<path d="M495.5 9.5H498.5V13.5H502.5V16.5H498.5V20.5H495.5V16.5H491.5V13.5H495.5Z" fill="url(#gplus)" stroke="#008a00" stroke-width="1"/>
</g>
<rect x="509" y="10" width="5" height="1" fill="#000"/><rect x="510" y="11" width="3" height="1" fill="#000"/><rect x="511" y="12" width="1" height="1" fill="#000"/>
<g shape-rendering="auto"><circle cx="533" cy="11" r="6.6" fill="#fff" stroke="#1a66d8" stroke-width="2.2"/><circle cx="533" cy="11" r="7.7" fill="none" stroke="#0d4aa8" stroke-width=".5"/><path d="M533 6.5V11.2H536" fill="none" stroke="#222" stroke-width="1.2"/><path d="M533 14.2V15.2M529 11H530M537 11H536" stroke="#8ab8f0" stroke-width=".8"/></g>
<rect x="548" y="10" width="5" height="1" fill="#000"/><rect x="549" y="11" width="3" height="1" fill="#000"/><rect x="550" y="12" width="1" height="1" fill="#000"/>
<rect x="564" y="4" width="15" height="14" fill="#fff" stroke="#3a78c8" stroke-width="1" transform="translate(.5,.5)" /><rect x="565" y="5" width="14" height="2" fill="#7ab0e8"/><rect x="565" y="12" width="14" height="1" fill="#5a90d8"/>
<path d="M566 10.5H568L569.5 9H571L572.5 10H574L575.5 8.5H577.5" fill="none" stroke="#a82008" stroke-width="1.3" shape-rendering="auto"/><path d="M566.5 15.5H568L569.5 14.5L571 15.5H572.5L574.5 13.3L576.5 15.5H577.5" fill="none" stroke="#1f8f1f" stroke-width="1.3" shape-rendering="auto"/>
<rect x="587" y="10" width="5" height="1" fill="#000"/><rect x="588" y="11" width="3" height="1" fill="#000"/><rect x="589" y="12" width="1" height="1" fill="#000"/>
<rect x="598" y="0" width="1" height="21" fill="#a0a0a0"/>
<rect x="599" y="0" width="1" height="21" fill="#fff"/>
<rect x="602" y="1" width="3" height="1" fill="#a0a0a0"/>
<rect x="602" y="3" width="3" height="1" fill="#a0a0a0"/>
<rect x="602" y="5" width="3" height="1" fill="#a0a0a0"/>
<rect x="602" y="7" width="3" height="1" fill="#a0a0a0"/>
<rect x="602" y="9" width="3" height="1" fill="#a0a0a0"/>
<rect x="602" y="11" width="3" height="1" fill="#a0a0a0"/>
<rect x="602" y="13" width="3" height="1" fill="#a0a0a0"/>
<rect x="602" y="15" width="3" height="1" fill="#a0a0a0"/>
<rect x="602" y="17" width="3" height="1" fill="#a0a0a0"/>
<rect x="602" y="19" width="3" height="1" fill="#a0a0a0"/>
<rect x="608" y="0" width="1" height="21" fill="#a0a0a0"/>
<rect x="609" y="1" width="23" height="20" fill="url(#chk)"/><rect x="632" y="0" width="1" height="22" fill="#fff"/><rect x="608" y="21" width="25" height="1" fill="#fff"/>
<path d="M616 4V15L618.6 12.6L621.2 18L623 17.2L620.6 11.8L624 11.4Z" fill="#484848" shape-rendering="auto"/>
<rect x="641" y="11" width="6" height="1" fill="#505050"/><rect x="650" y="11" width="6" height="1" fill="#505050"/><rect x="648" y="4" width="1" height="6" fill="#505050"/><rect x="648" y="13" width="1" height="6" fill="#505050"/><rect x="648" y="11" width="1" height="1" fill="#b09060"/>
<rect x="665" y="0" width="1" height="21" fill="#a0a0a0"/>
<rect x="682" y="5" width="1" height="13" fill="#505050"/>
<rect x="705" y="11" width="12" height="1" fill="#505050"/>
<path d="M732.8 18L745.2 5.8" stroke="#505050" stroke-width="1" shape-rendering="auto"/>
<g shape-rendering="auto" stroke="#505050" fill="none"><path d="M759 12.8L767 5" stroke-width="1"/><path d="M764 18L773 9.2" stroke-width="1"/><path d="M761 17L763.5 9.5M765 14.5L767.5 7M769 12L771 3.5" stroke-width="1.1"/><path d="M760.5 15L771.5 6.5" stroke-width=".9"/></g>
<text x="769.8" y="19.8" font-size="6.6" font-weight="bold" fill="#303030">E</text>
<rect x="788" y="4" width="1" height="1" fill="#505050"/>
<rect x="790" y="4" width="1" height="1" fill="#505050"/>
<rect x="792" y="4" width="1" height="1" fill="#505050"/>
<rect x="794" y="4" width="1" height="1" fill="#505050"/>
<rect x="796" y="4" width="1" height="1" fill="#505050"/>
<rect x="798" y="4" width="1" height="1" fill="#505050"/>
<rect x="800" y="4" width="1" height="1" fill="#505050"/>
<rect x="788" y="7" width="1" height="1" fill="#505050"/>
<rect x="790" y="7" width="1" height="1" fill="#505050"/>
<rect x="792" y="7" width="1" height="1" fill="#505050"/>
<rect x="794" y="7" width="1" height="1" fill="#505050"/>
<rect x="796" y="7" width="1" height="1" fill="#505050"/>
<rect x="798" y="7" width="1" height="1" fill="#505050"/>
<rect x="800" y="7" width="1" height="1" fill="#505050"/>
<rect x="788" y="11" width="1" height="1" fill="#505050"/>
<rect x="790" y="11" width="1" height="1" fill="#505050"/>
<rect x="792" y="11" width="1" height="1" fill="#505050"/>
<rect x="794" y="11" width="1" height="1" fill="#505050"/>
<rect x="796" y="11" width="1" height="1" fill="#505050"/>
<rect x="798" y="11" width="1" height="1" fill="#505050"/>
<rect x="800" y="11" width="1" height="1" fill="#505050"/>
<rect x="788" y="15" width="1" height="1" fill="#505050"/>
<rect x="790" y="15" width="1" height="1" fill="#505050"/>
<rect x="792" y="15" width="1" height="1" fill="#505050"/>
<rect x="794" y="15" width="1" height="1" fill="#505050"/>
<rect x="796" y="15" width="1" height="1" fill="#505050"/>
<text x="797.6" y="19.8" font-size="6.6" font-weight="bold" fill="#303030">F</text>
<text x="819" y="16" font-size="12.6" fill="#505050" textLength="7.6" lengthAdjust="spacingAndGlyphs" stroke="#505050" stroke-width=".3">A</text>
<rect x="846" y="5" width="1" height="1" fill="#505050"/><rect x="846" y="17" width="1" height="1" fill="#505050"/>
<rect x="848" y="5" width="1" height="1" fill="#505050"/><rect x="848" y="17" width="1" height="1" fill="#505050"/>
<rect x="850" y="5" width="1" height="1" fill="#505050"/><rect x="850" y="17" width="1" height="1" fill="#505050"/>
<rect x="852" y="5" width="1" height="1" fill="#505050"/><rect x="852" y="17" width="1" height="1" fill="#505050"/>
<rect x="854" y="5" width="1" height="1" fill="#505050"/><rect x="854" y="17" width="1" height="1" fill="#505050"/>
<rect x="856" y="5" width="1" height="1" fill="#505050"/><rect x="856" y="17" width="1" height="1" fill="#505050"/>
<rect x="845" y="7" width="1" height="1" fill="#505050"/><rect x="856" y="7" width="1" height="1" fill="#505050"/>
<rect x="845" y="9" width="1" height="1" fill="#505050"/><rect x="856" y="9" width="1" height="1" fill="#505050"/>
<rect x="845" y="11" width="1" height="1" fill="#505050"/><rect x="856" y="11" width="1" height="1" fill="#505050"/>
<rect x="845" y="13" width="1" height="1" fill="#505050"/><rect x="856" y="13" width="1" height="1" fill="#505050"/>
<rect x="845" y="15" width="1" height="1" fill="#505050"/><rect x="856" y="15" width="1" height="1" fill="#505050"/>
<rect x="844" y="4" width="2" height="1" fill="#505050"/>
<rect x="847" y="8" width="8" height="1.4" fill="#505050"/><rect x="850.2" y="8" width="1.6" height="8" fill="#505050"/>
<g shape-rendering="auto"><path d="M872 9.3L875.6 5L879.2 9.3Z" fill="#505050"/><path d="M879 13.3L882.6 18L886.2 13.3Z" fill="#505050"/><path d="M874.2 12.4L876.8 14.6L880.8 9.2" fill="none" stroke="#505050" stroke-width="1.3"/></g>
<rect x="893" y="10" width="5" height="1" fill="#000"/><rect x="894" y="11" width="3" height="1" fill="#000"/><rect x="895" y="12" width="1" height="1" fill="#000"/>
<rect x="904" y="0" width="1" height="21" fill="#a0a0a0"/>
<rect x="905" y="0" width="1" height="21" fill="#fff"/>
<rect x="908" y="1" width="3" height="1" fill="#a0a0a0"/>
<rect x="908" y="3" width="3" height="1" fill="#a0a0a0"/>
<rect x="908" y="5" width="3" height="1" fill="#a0a0a0"/>
<rect x="908" y="7" width="3" height="1" fill="#a0a0a0"/>
<rect x="908" y="9" width="3" height="1" fill="#a0a0a0"/>
<rect x="908" y="11" width="3" height="1" fill="#a0a0a0"/>
<rect x="908" y="13" width="3" height="1" fill="#a0a0a0"/>
<rect x="908" y="15" width="3" height="1" fill="#a0a0a0"/>
<rect x="908" y="17" width="3" height="1" fill="#a0a0a0"/>
<rect x="908" y="19" width="3" height="1" fill="#a0a0a0"/>
<rect x="1054" y="0" width="1" height="21" fill="#a0a0a0"/>
<rect x="1055" y="1" width="23" height="20" fill="url(#chk)"/><rect x="1078" y="0" width="1" height="22" fill="#fff"/><rect x="1054" y="21" width="25" height="1" fill="#fff"/>
<text x="919.7" y="15" font-size="10" fill="#404040" textLength="12.3" lengthAdjust="spacingAndGlyphs">M1</text>
<text x="947.8" y="15" font-size="10" fill="#404040" textLength="12.3" lengthAdjust="spacingAndGlyphs">M5</text>
<text x="973.5" y="15" font-size="10" fill="#404040" textLength="17.7" lengthAdjust="spacingAndGlyphs">M15</text>
<text x="1001.5" y="15" font-size="10" fill="#404040" textLength="17.8" lengthAdjust="spacingAndGlyphs">M30</text>
<text x="1032.5" y="15" font-size="10" fill="#404040" textLength="11.8" lengthAdjust="spacingAndGlyphs">H1</text>
<text x="1059.3" y="15" font-size="10" fill="#404040" textLength="12.5" lengthAdjust="spacingAndGlyphs">H4</text>
<text x="1088.7" y="15" font-size="10" fill="#404040" textLength="11.2" lengthAdjust="spacingAndGlyphs">D1</text>
<text x="1116.2" y="15" font-size="10" fill="#404040" textLength="14.3" lengthAdjust="spacingAndGlyphs">W1</text>
<text x="1142.6" y="15" font-size="10" fill="#404040" textLength="14.8" lengthAdjust="spacingAndGlyphs">MN</text>
<rect x="1165" y="0" width="1" height="23" fill="#a0a0a0"/>
<g shape-rendering="auto"><path d="M1632.4 11.6L1628.4 15.8" stroke="#2a5ad8" stroke-width="2.6" stroke-linecap="round"/><circle cx="1635.6" cy="8.6" r="3.9" fill="#f4f6ff" stroke="#2a5ad8" stroke-width="1.3"/></g>
<g shape-rendering="auto"><path d="M1653 12.5C1653 7 1664 7 1664 12.5C1664 16.5 1659 17 1657.5 16.8L1655.4 19.4L1655.6 16.4C1654 15.6 1653 14.4 1653 12.5Z" fill="#e4e4ee" stroke="#a8a8a8" stroke-width=".8"/><circle cx="1666.6" cy="8.4" r="8.2" fill="url(#badge)"/><text x="1665.2" y="13" font-size="12" fill="#fff" text-anchor="middle">1</text></g>
</svg></body></html>
